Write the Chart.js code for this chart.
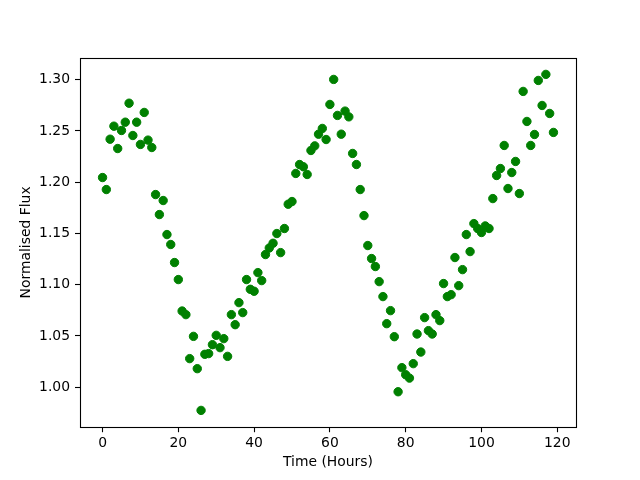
<!DOCTYPE html>
<html>
<head>
<meta charset="utf-8">
<script src="https://cdn.jsdelivr.net/npm/chart.js@4/dist/chart.umd.min.js"></script>
<style>
  html, body { margin: 0; padding: 0; background: #fff; }
  #wrap { width: 640px; height: 480px; }
</style>
</head>
<body>
<div id="wrap"><canvas id="c" width="640" height="480"></canvas></div>
<script>
// Time in hours
const hours = [];
for (let h = 0; h < 120; h++) hours.push(h);

// Normalised flux values
const flux = [
  1.2045, 1.1928, 1.2419, 1.2546, 1.2328, 1.2504, 1.2585, 1.2770, 1.2455, 1.2585,
  1.2368, 1.2680, 1.2410, 1.2338, 1.1879, 1.1684, 1.1821, 1.1489, 1.1392, 1.1216,
  1.1050, 1.0743, 1.0708, 1.0279, 1.0496, 1.0181, 0.9774, 1.0321, 1.0328, 1.0415,
  1.0506, 1.0386, 1.0474, 1.0301, 1.0708, 1.0610, 1.0825, 1.0728, 1.1050, 1.0955,
  1.0936, 1.1118, 1.1040, 1.1294, 1.1358, 1.1404, 1.1499, 1.1313, 1.1548, 1.1785,
  1.1811, 1.2085, 1.2172, 1.2150, 1.2075, 1.2309, 1.2354, 1.2468, 1.2524, 1.2416,
  1.2758, 1.3002, 1.2651, 1.2468, 1.2693, 1.2637, 1.2280, 1.2172, 1.1928, 1.1674,
  1.1382, 1.1255, 1.1177, 1.1030, 1.0884, 1.0620, 1.0747, 1.0493, 0.9956, 1.0191,
  1.0122, 1.0089, 1.0230, 1.0519, 1.0343, 1.0679, 1.0552, 1.0519, 1.0708, 1.0650,
  1.1011, 1.0884, 1.0903, 1.1265, 1.0991, 1.1147, 1.1489, 1.1323, 1.1596, 1.1548,
  1.1509, 1.1573, 1.1548, 1.1840, 1.2065, 1.2133, 1.2358, 1.1938, 1.2094, 1.2202,
  1.1889, 1.2885, 1.2592, 1.2358, 1.2465, 1.2992, 1.2748, 1.3051, 1.2670, 1.2485
];

// Tick labels
const xTicks = [0, 20, 40, 60, 80, 100, 120];
const yTicks = [1.00, 1.05, 1.10, 1.15, 1.20, 1.25, 1.30];

const xLabel = 'Time (Hours)';
const yLabel = 'Normalised Flux';

// matplotlib-like 5% margins
function limits(arr) {
  const mn = Math.min(...arr), mx = Math.max(...arr);
  const m = (mx - mn) * 0.05;
  return [mn - m, mx + m];
}
const [xMin, xMax] = limits(hours);
const [yMin, yMax] = limits(flux);

const points = hours.map((h, i) => ({ x: h, y: flux[i] }));

const FONT = { family: 'DejaVu Sans', size: 13.9 };

const boxPlugin = {
  id: 'box',
  afterDraw(chart) {
    const { ctx, chartArea: a } = chart;
    ctx.save();
    ctx.strokeStyle = '#000';
    ctx.lineWidth = 1.1;
    ctx.strokeRect(Math.round(a.left) + 0.5, Math.round(a.top) + 0.5,
                   Math.round(a.right) - Math.round(a.left), Math.round(a.bottom) - Math.round(a.top));
    ctx.restore();
  }
};

new Chart(document.getElementById('c'), {
  type: 'scatter',
  data: {
    datasets: [{
      data: points,
      backgroundColor: '#008000',
      borderColor: '#008000',
      borderWidth: 1,
      pointRadius: 4.2,
      pointHoverRadius: 4.2
    }]
  },
  options: {
    responsive: false,
    animation: false,
    devicePixelRatio: 1,
    layout: { padding: { left: 0, top: 57.6, right: 64, bottom: 0 } },
    plugins: { legend: { display: false }, tooltip: { enabled: false } },
    scales: {
      x: {
        type: 'linear',
        min: xMin, max: xMax,
        afterBuildTicks(s) { s.ticks = xTicks.map(v => ({ value: v })); },
        afterFit(s) { s.height = 480 - 427.2; },
        border: { display: false },
        grid: { display: true, drawOnChartArea: false, drawTicks: true, tickLength: 5, tickColor: '#000', tickWidth: 1.1 },
        ticks: { color: '#000', font: FONT, padding: 3, autoSkip: false, maxRotation: 0,
                 callback: v => String(v) },
        title: { display: true, text: xLabel, color: '#000', font: FONT, padding: { top: 0, bottom: 9 } }
      },
      y: {
        type: 'linear',
        min: yMin, max: yMax,
        afterBuildTicks(s) { s.ticks = yTicks.map(v => ({ value: v })); },
        afterFit(s) { s.width = 80; },
        border: { display: false },
        grid: { display: true, drawOnChartArea: false, drawTicks: true, tickLength: 5, tickColor: '#000', tickWidth: 1.1 },
        ticks: { color: '#000', font: FONT, padding: 5, autoSkip: false,
                 callback: v => Number(v).toFixed(2) },
        title: { display: true, text: yLabel, color: '#000', font: FONT, padding: { top: 18, bottom: 0 } }
      }
    }
  },
  plugins: [boxPlugin]
});
</script>
</body>
</html>
